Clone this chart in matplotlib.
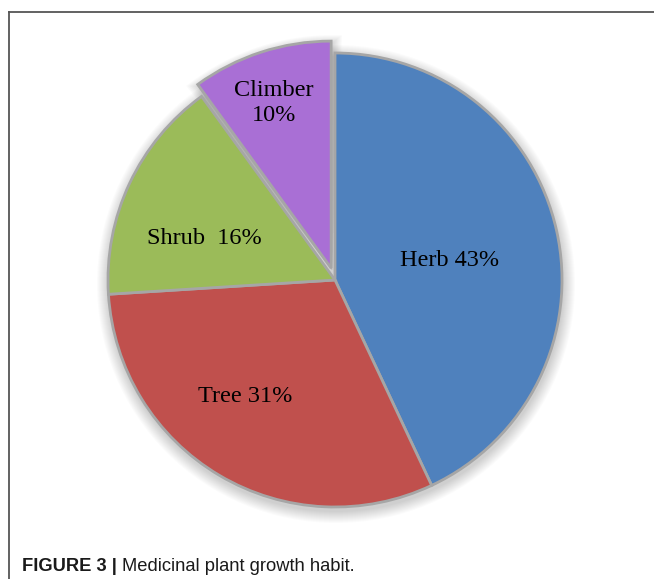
import numpy as np
import matplotlib.pyplot as plt
from matplotlib.patches import Circle, Wedge

# growth habit shares (%)
habits = ['Herb', 'Tree', 'Shrub', 'Climber']
shares = [43, 31, 16, 10]
colors = ['#4F81BD', '#C0504D', '#9BBB59', '#A96FD5']
explode = [0, 0, 0, 0.055]
label_text = ['Herb 43%', 'Tree 31%', 'Shrub  16%', 'Climber\n10%']

W, H = 654, 579
fig = plt.figure(figsize=(W / 100, H / 100), dpi=100)
ax = fig.add_axes([0, 0, 1, 1])

cx, cy, R = 335, H - 280, 227

# soft shadow around the pie, a bit heavier below
for k in range(12, 0, -1):
    ax.add_patch(Circle((cx + 1, cy - 4), R + k, color='#000000',
                        alpha=0.017, lw=0, zorder=1))

wedges, _ = ax.pie(shares, colors=colors, explode=[e * R for e in explode],
                   startangle=90, counterclock=False, radius=R,
                   center=(cx, cy),
                   wedgeprops=dict(edgecolor='#A6A6A6', linewidth=2),
                   frame=True)
for w in wedges:
    w.set_zorder(3)

# shadow behind the exploded climber slice
cw = wedges[3]
for k in range(8, 0, -1):
    ax.add_patch(Wedge((cw.center[0] + 1, cw.center[1] - 2), cw.r + k,
                       cw.theta1 - k * 0.3, cw.theta2 + k * 0.3,
                       color='#000000', alpha=0.02, lw=0, zorder=2))

ax.set_xlim(0, W)
ax.set_ylim(0, H)
ax.set_aspect('auto')
ax.axis('off')

# label positions (pixels from the top-left)
label_pos = [(450, 261), (245, 396), (204, 238), (274, 103)]
for txt, (x, y) in zip(label_text, label_pos):
    ax.text(x, H - y, txt, ha='center', va='center', fontsize=17.5,
            family='Liberation Serif', color='#000000', zorder=5,
            linespacing=1.2)

# frame lines (top and left only)
ax.plot([9, W], [H - 12, H - 12], color='#555555', lw=1.3, zorder=6)
ax.plot([9, 9], [0, H - 12], color='#555555', lw=1.3, zorder=6)

# caption
t = ax.text(22, 8, 'FIGURE 3 |', fontsize=13.2, fontweight='bold',
            family='Liberation Sans', va='baseline', color='#1a1a1a')
fig.canvas.draw()
bb = t.get_window_extent()
ax.text(bb.x1 + 5, 8, 'Medicinal plant growth habit.', fontsize=13.2,
        family='Liberation Sans', va='baseline', color='#1a1a1a')

fig.savefig('out.png', dpi=100)
